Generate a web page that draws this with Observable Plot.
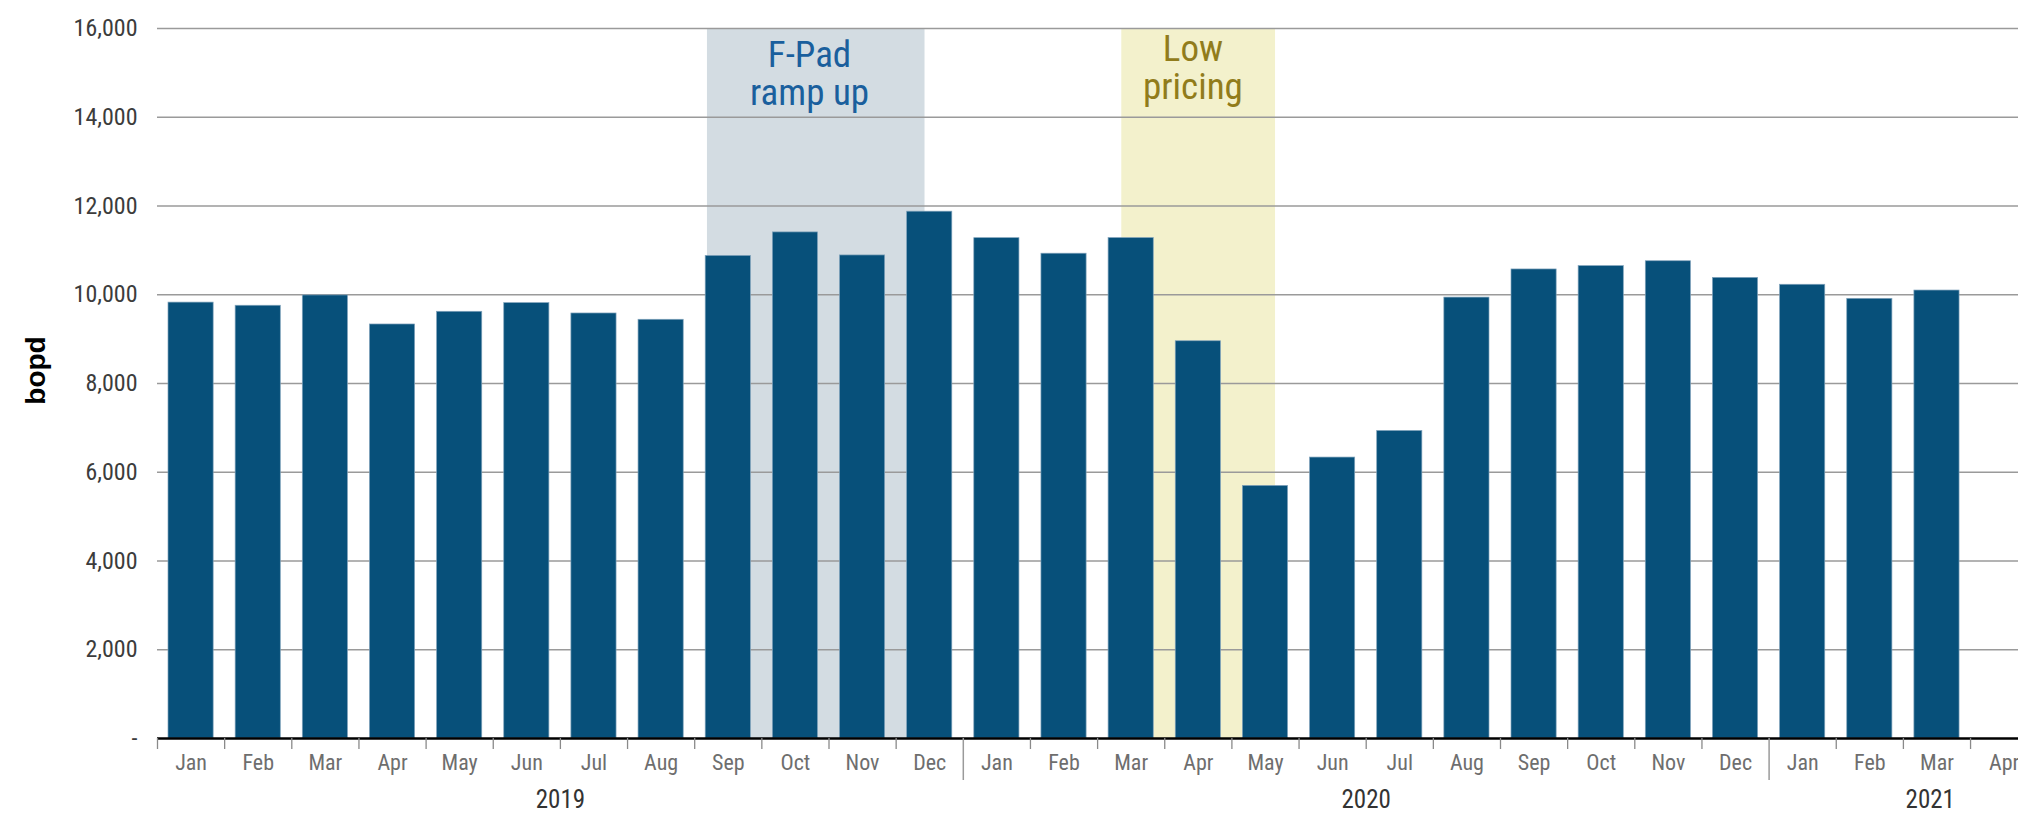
<!DOCTYPE html>
<html>
<head>
<meta charset="utf-8">
<script src="https://cdn.jsdelivr.net/npm/d3@7"></script>
<script src="https://cdn.jsdelivr.net/npm/@observablehq/plot@0.6"></script>
<style>
  html, body { margin: 0; padding: 0; background: #fff; overflow: hidden; }
  #chart { width: 2018px; height: 813px; overflow: hidden; }
</style>
</head>
<body>
<div id="chart"></div>
<script>
// ---- data ----
const months = ["Jan","Feb","Mar","Apr","May","Jun","Jul","Aug","Sep","Oct","Nov","Dec",
                "Jan","Feb","Mar","Apr","May","Jun","Jul","Aug","Sep","Oct","Nov","Dec",
                "Jan","Feb","Mar","Apr"];
const production = [9823, 9752, 9984, 9330, 9616, 9811, 9578, 9436, 10875, 11405, 10886, 11872,
                    11275, 10925, 11277, 8952, 5692, 6331, 6930, 9936, 10570, 10645, 10755, 10380,
                    10225, 9908, 10095, null];
const years = ["2019", "2020", "2021"];
const yearCenters = [6, 18, 26.4];          // in month units
const yearDividers = [12, 24];
const yTicks = [0, 2000, 4000, 6000, 8000, 10000, 12000, 14000, 16000];
const shadeLabels = ["F-Pad\nramp up", "Low\npricing"];
const shadeStart = [8.19, 14.36];           // in month units
const shadeEnd = [11.43, 16.65];
const shadeLabelX = [9.71, 15.42];

// ---- build tables ----
const bars = months.map((m, i) => ({i, month: m, value: production[i]})).filter(d => d.value != null);
const shades = shadeLabels.map((label, k) => ({label, start: shadeStart[k], end: shadeEnd[k], cx: shadeLabelX[k]}));
const yearRows = years.map((y, k) => ({year: y, x: yearCenters[k]}));

const narrow = '"Roboto Condensed", "Liberation Sans Narrow", "Arial Narrow", "DejaVu Sans Condensed", sans-serif';
const fmt = d3.format(",");

const plot = Plot.plot({
  width: 2018,
  height: 813,
  marginLeft: 157,
  marginRight: 0,
  marginTop: 28,
  marginBottom: 75,
  style: {fontFamily: narrow, background: "#fff", maxWidth: "none"},
  x: {type: "linear", domain: [0, months.length], range: [157, 157 + 67.15 * months.length]},
  y: {domain: [0, 16000], label: null},
  marks: [
    Plot.rect(shades.slice(0, 1), {x1: "start", x2: "end", y1: 0, y2: 16000, fill: "#d3dce2"}),
    Plot.rect(shades.slice(1, 2), {x1: "start", x2: "end", y1: 0, y2: 16000, fill: "#f3f1cc"}),
    Plot.gridY(yTicks.filter(t => t > 0), {stroke: "#9a9a9a", strokeOpacity: 1, strokeWidth: 1.3}),
    Plot.rect(bars, {x1: d => d.i, x2: d => d.i + 1, y1: 0, y2: "value",
      insetLeft: 11, insetRight: 11, fill: "#07507a", stroke: "#7fa2bb", strokeWidth: 0.7}),
    Plot.ruleY([0], {stroke: "#000", strokeWidth: 2.5}),
    Plot.axisY({ticks: yTicks, tickSize: 0, tickPadding: 20, label: null,
      tickFormat: d => d === 0 ? "-" : fmt(d), fontSize: 24, fill: "#3c3c3c", fontFamily: narrow}),
    Plot.axisX({ticks: d3.range(0, months.length + 1).filter(t => !yearDividers.includes(t)),
      tickSize: 11, stroke: "#8a8a8a", strokeWidth: 1.3, tickFormat: () => "", label: null}),
    Plot.axisX({ticks: yearDividers, tickSize: 42, stroke: "#9a9a9a", strokeWidth: 1.5,
      tickFormat: () => "", label: null}),
    Plot.axisX({ticks: months.map((m, i) => i + 0.5), tickSize: 0, tickPadding: 16, label: null,
      tickFormat: d => months[Math.floor(d)], fontSize: 22, fill: "#6e6e6e", fontFamily: narrow}),
    Plot.text(yearRows, {x: "x", text: "year", frameAnchor: "bottom", lineAnchor: "top", dy: 52,
      fontSize: 25, fill: "#333", fontFamily: narrow, ariaLabel: "year label"}),
    Plot.text(shades.slice(0, 1), {x: "cx", y: 16000, text: "label", lineAnchor: "top", dy: 11,
      fontSize: 37, lineHeight: 1.03, fill: "#1a5f9d", fontFamily: narrow}),
    Plot.text(shades.slice(1, 2), {x: "cx", y: 16000, text: "label", lineAnchor: "top", dy: 5,
      fontSize: 37, lineHeight: 1.03, fill: "#917c1b", fontFamily: narrow}),
    Plot.text(["bopd"], {frameAnchor: "left", dx: -121, dy: -13, rotate: -90, textAnchor: "middle",
      lineAnchor: "middle", fontSize: 28, fontWeight: "bold", fill: "#000",
      fontFamily: '"Liberation Sans", Arial, sans-serif'})
  ]
});
document.getElementById("chart").appendChild(plot);
</script>
</body>
</html>
